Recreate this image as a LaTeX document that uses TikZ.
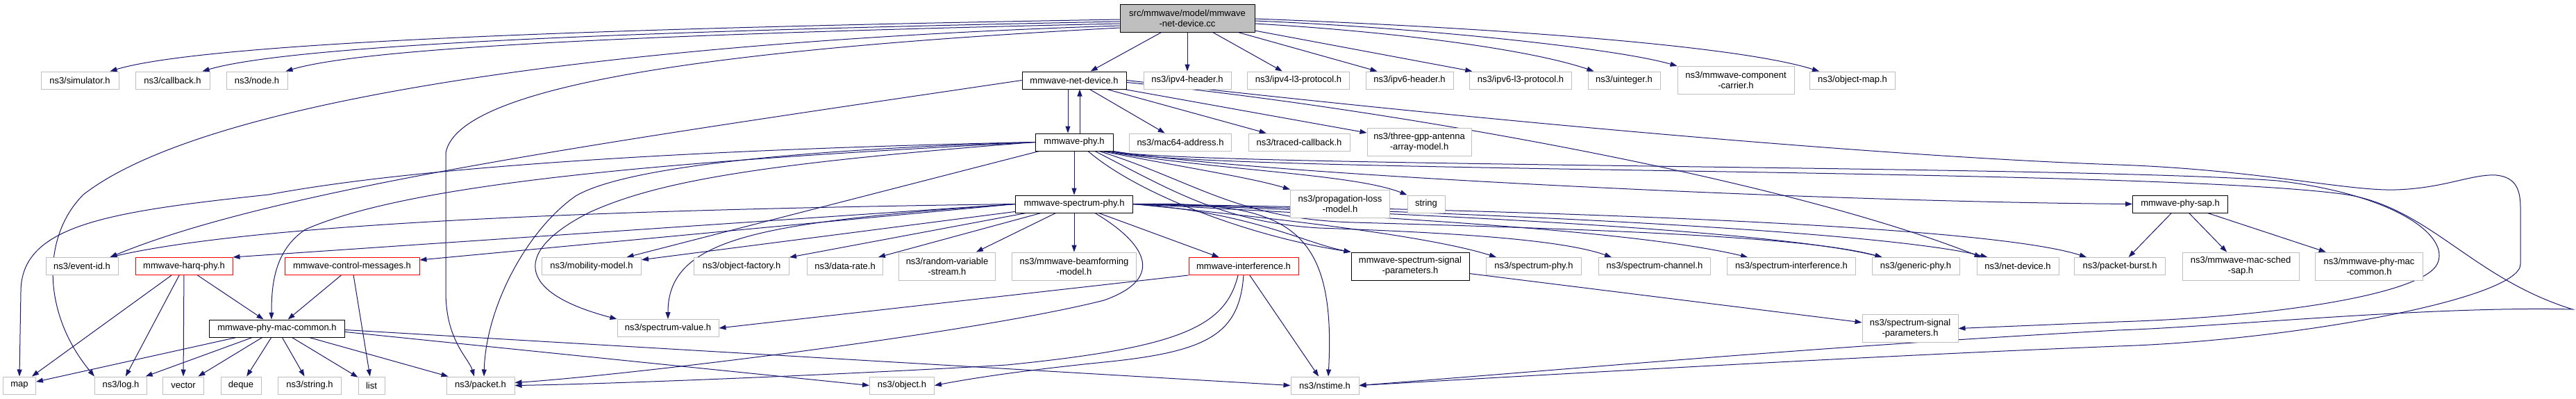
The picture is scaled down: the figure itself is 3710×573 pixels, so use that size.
\documentclass[tikz,border=0pt]{standalone}
\usepackage{fontspec}
\usetikzlibrary{arrows.meta,backgrounds}
\newfontfamily\graphfont{Liberation Sans}
\definecolor{edgeblue}{HTML}{191970}
\definecolor{sysline}{HTML}{BFBFBF}
\definecolor{topfill}{HTML}{BFBFBF}
\definecolor{cutline}{HTML}{FF0000}

\begin{document}
\begin{tikzpicture}[
    x=1pt, y=-1pt,
    font=\graphfont\fontsize{13}{15}\selectfont,
    >={Triangle[length=10pt,width=7pt]},
    box/.style={draw=#1, line width=1pt, fill=white, align=center,
                inner xsep=3pt, inner ysep=1pt, minimum height=25pt},
    sysbox/.style={box=sysline},
    srcbox/.style={box=black},
    cutbox/.style={box=cutline},
    topbox/.style={box=black, fill=topfill},
    tall/.style={minimum height=40pt},
    arr/.style={->, line width=1pt, draw=edgeblue},
  ]
  \useasboundingbox (0,0) rectangle (3710,573);

  % ---- the file itself
  \node[topbox, tall, minimum width=194pt] (root) at (1710,26) {src/mmwave/model/mmwave\\-net-device.cc};

  % ---- direct includes
  \node[sysbox, minimum width=112pt] (sim) at (115,115.5) {ns3/simulator.h};
  \node[sysbox, minimum width=107pt] (cb) at (248.5,115.5) {ns3/callback.h};
  \node[sysbox, minimum width=88pt] (nd) at (370,115.5) {ns3/node.h};
  \node[srcbox, minimum width=150pt] (netdev) at (1547,115.5) {mmwave-net-device.h};
  \node[sysbox, minimum width=126pt] (ipfh) at (1710,115.5) {ns3/ipv4-header.h};
  \node[sysbox, minimum width=147pt] (ipfl) at (1870,115.5) {ns3/ipv4-l3-protocol.h};
  \node[sysbox, minimum width=126pt] (ipsh) at (2030,115.5) {ns3/ipv6-header.h};
  \node[sysbox, minimum width=147pt] (ipsl) at (2190,115.5) {ns3/ipv6-l3-protocol.h};
  \node[sysbox, minimum width=104pt] (uint) at (2339,115.5) {ns3/uinteger.h};
  \node[sysbox, tall, minimum width=168pt] (cc) at (2500,115.5) {ns3/mmwave-component\\-carrier.h};
  \node[sysbox, minimum width=123pt] (omap) at (2668,115.5) {ns3/object-map.h};

  % ---- net device level
  \node[srcbox, minimum width=112pt] (phy) at (1547,204.5) {mmwave-phy.h};
  \node[sysbox, minimum width=147pt] (mac) at (1700,204.5) {ns3/mac64-address.h};
  \node[sysbox, minimum width=146pt] (traced) at (1871,204.5) {ns3/traced-callback.h};
  \node[sysbox, tall, minimum width=150pt] (antenna) at (2044,204.5) {ns3/three-gpp-antenna\\-array-model.h};

  % ---- phy level
  \node[srcbox, minimum width=169pt] (sphy) at (1547,293.5) {mmwave-spectrum-phy.h};
  \node[sysbox, tall, minimum width=143pt] (prop) at (1930,293) {ns3/propagation-loss\\-model.h};
  \node[sysbox, minimum width=54pt] (str) at (2054,293.5) {string};
  \node[srcbox, minimum width=137pt] (sap) at (3140,293.5) {mmwave-phy-sap.h};

  % ---- spectrum phy level
  \node[sysbox, minimum width=104pt] (evid) at (118,383) {ns3/event-id.h};
  \node[cutbox, minimum width=140pt] (harq) at (265,383) {mmwave-harq-phy.h};
  \node[cutbox, minimum width=194pt] (ctrl) at (507,383) {mmwave-control-messages.h};
  \node[sysbox, minimum width=143pt] (mob) at (852,383) {ns3/mobility-model.h};
  \node[sysbox, minimum width=137pt] (ofac) at (1068,383) {ns3/object-factory.h};
  \node[sysbox, minimum width=109pt] (drate) at (1217,383) {ns3/data-rate.h};
  \node[sysbox, tall, minimum width=139pt] (rvs) at (1364,383) {ns3/random-variable\\-stream.h};
  \node[sysbox, tall, minimum width=179pt] (bf) at (1547,383) {ns3/mmwave-beamforming\\-model.h};
  \node[cutbox, minimum width=158pt] (intf) at (1791,383) {mmwave-interference.h};
  \node[srcbox, tall, minimum width=170pt] (mssp) at (2031,383) {mmwave-spectrum-signal\\-parameters.h};
  \node[sysbox, minimum width=137pt] (specphy) at (2209,383) {ns3/spectrum-phy.h};
  \node[sysbox, minimum width=161pt] (schan) at (2383,383) {ns3/spectrum-channel.h};
  \node[sysbox, minimum width=185pt] (sint) at (2580,383) {ns3/spectrum-interference.h};
  \node[sysbox, minimum width=126pt] (gphy) at (2759,383) {ns3/generic-phy.h};
  \node[sysbox, minimum width=118pt] (netd) at (2906,383) {ns3/net-device.h};
  \node[sysbox, minimum width=131pt] (pburst) at (3053,383) {ns3/packet-burst.h};
  \node[sysbox, tall, minimum width=168pt] (sched) at (3227,383) {ns3/mmwave-mac-sched\\-sap.h};
  \node[sysbox, tall, minimum width=155pt] (pmc) at (3412,383) {ns3/mmwave-phy-mac\\-common.h};

  % ---- common level
  \node[srcbox, minimum width=195pt] (common) at (399,472.5) {mmwave-phy-mac-common.h};
  \node[sysbox, minimum width=146pt] (sval) at (962,472) {ns3/spectrum-value.h};
  \node[sysbox, tall, minimum width=138pt] (ssp) at (2751,472.5) {ns3/spectrum-signal\\-parameters.h};

  % ---- leaves
  \node[sysbox, minimum width=47pt] (map) at (28,554.5) {map};
  \node[sysbox, minimum width=75pt] (log) at (174,554.5) {ns3/log.h};
  \node[sysbox, minimum width=59pt] (vec) at (264,554.5) {vector};
  \node[sysbox, minimum width=58pt] (deq) at (347,554.5) {deque};
  \node[sysbox, minimum width=91pt] (strh) at (446,554.5) {ns3/string.h};
  \node[sysbox, minimum width=38pt] (list) at (535,554.5) {list};
  \node[sysbox, minimum width=98pt] (pkt) at (692,554.5) {ns3/packet.h};
  \node[sysbox, minimum width=93pt] (obj) at (1299,554.5) {ns3/object.h};
  \node[sysbox, minimum width=98pt] (nst) at (1908,554.5) {ns3/nstime.h};

  \begin{scope}[on background layer]
    \fill[white] (0,0) rectangle (3710,573);

    % includes of the .cc file
    \draw[arr] ([yshift=-2pt]root.west) .. controls (900,40) and (300,60) .. ([xshift=-13pt]sim.north east);
    \draw[arr] ([yshift=-5pt]root.west) .. controls (900,45) and (420,65) .. ([xshift=-11pt]cb.north east);
    \draw[arr] ([yshift=-8pt]root.west) .. controls (900,50) and (520,70) .. ([xshift=-3pt]nd.north east);
    \draw[arr] ([yshift=-11pt]root.west) .. controls (900,60) and (300,140) .. (120,280)
               .. controls (60,340) and (60,450) .. (log.north west);
    \draw[arr] ([yshift=-14pt]root.west) .. controls (1050,70) and (660,120) .. (642,220)
               -- (642,420) .. controls (642,490) and (675,515) .. ([xshift=-9pt]pkt.north);
    \draw[arr] (root) -- (netdev);
    \draw[arr] (root) -- (ipfh);
    \draw[arr] (root) -- (ipfl);
    \draw[arr] (root) -- (ipsh);
    \draw[arr] (root) -- (ipsl);
    \draw[arr] ([yshift=-8pt]root.east) .. controls (2000,45) and (2200,70) .. ([xshift=9pt]uint.north west);
    \draw[arr] ([yshift=-4pt]root.east) .. controls (2050,40) and (2330,70) .. (cc.north west);
    \draw[arr] ([yshift=-1pt]root.east) .. controls (2150,40) and (2500,65) .. ([xshift=14pt]omap.north west);

    % mmwave-net-device.h
    \draw[arr] ([xshift=-9pt]netdev.south) -- ([xshift=-9pt]phy.north);
    \draw[arr] (netdev) -- (mac);
    \draw[arr] (netdev) -- (traced);
    \draw[arr] (netdev) -- (antenna);
    \draw[arr] (netdev.west) .. controls (900,200) and (400,270) .. ([xshift=-12pt]evid.north east);
    \draw[arr] ([yshift=-3pt]netdev.east) .. controls (1950,150) and (2550,250) .. ([xshift=7pt]netd.north west);
    \draw[arr] (netdev.east) .. controls (2100,170) and (2700,225) .. (3050,237)
               .. controls (3250,244) and (3380,275) .. (3450,273)
               .. controls (3520,271) and (3560,250) .. (3595,252)
               .. controls (3625,255) and (3630,275) .. (3630,300) -- (3630,380)
               .. controls (3630,430) and (3300,490) .. (3050,498)
               .. controls (2700,512) and (2300,535) .. (nst.east);

    % mmwave-phy.h
    \draw[arr] ([xshift=8pt]phy.north) -- ([xshift=8pt]netdev.south);
    \draw[arr] (phy) -- (sphy);
    \draw[arr] (phy) -- (mob);
    \draw[arr] ([xshift=40pt]phy.south) .. controls (1700,240) and (1800,255) .. (prop.north west);
    \draw[arr] ([xshift=44pt]phy.south) .. controls (1750,245) and (1950,250) .. (str.north west);
    \draw[arr] (phy.south east) .. controls (1800,250) and (2600,290) .. (sap.west);
    \draw[arr] ([xshift=-4pt]phy.south east) .. controls (1700,240) and (3000,238) .. (3280,260)
               .. controls (3450,280) and (3530,340) .. (3510,380)
               .. controls (3490,420) and (3300,455) .. (3050,463) -- (ssp.east);
    \draw[arr] ([xshift=-2pt]phy.south east) .. controls (1700,250) and (3100,240) .. (3380,280)
               .. controls (3500,300) and (3560,400) .. (3705,445)
               .. controls (3500,440) and (3200,470) .. (3050,475)
               .. controls (2600,500) and (2300,528) .. (nst.east);
    \draw[arr] ([xshift=20pt]phy.south) .. controls (1640,280) and (1800,340) .. (mssp.north west);
    \draw[arr] ([xshift=30pt]phy.south) .. controls (1680,270) and (1760,320) .. (1900,328)
               .. controls (2100,335) and (2250,345) .. ([xshift=19pt]schan.north west);
    \draw[arr] ([xshift=36pt]phy.south) .. controls (1720,260) and (1780,315) .. (1950,320)
               .. controls (2300,330) and (2600,340) .. ([xshift=15pt]gphy.north west);
    \draw[arr] (phy.west) .. controls (1000,215) and (600,240) .. (387,280)
               .. controls (150,305) and (30,325) .. (30,420) -- (map.north);
    \draw[arr] (phy.west) .. controls (1000,230) and (600,260) .. (440,330)
               .. controls (395,360) and (391,410) .. ([xshift=-8pt]common.north);
    \draw[arr] (phy.west) .. controls (1150,215) and (900,240) .. (829,282)
               .. controls (760,330) and (700,440) .. ([xshift=5pt]pkt.north);
    \draw[arr] (phy.west) .. controls (1100,235) and (950,260) .. (850,305)
               .. controls (740,360) and (740,420) .. (sval.north west);

    % mmwave-spectrum-phy.h
    \draw[arr] (sphy) -- (mob);
    \draw[arr] (sphy) -- (ofac);
    \draw[arr] (sphy) -- (drate);
    \draw[arr] (sphy) -- (rvs);
    \draw[arr] (sphy) -- (bf);
    \draw[arr] (sphy) -- (intf);
    \draw[arr] (sphy.west) -- (harq.north east);
    \draw[arr] (sphy.west) -- ([yshift=9pt]ctrl.east);
    \draw[arr] (sphy.west) .. controls (1000,300) and (400,315) .. ([xshift=-12pt]evid.north east);
    \draw[arr] (sphy.west) .. controls (1100,320) and (962,340) .. (sval.north);
    \draw[arr] ([xshift=30pt]sphy.south) .. controls (1650,350) and (1680,400) .. (1590,432)
               .. controls (1400,480) and (900,540) .. ([yshift=4pt]pkt.east);
    \draw[arr] (sphy.east) .. controls (1850,290) and (1925,320) .. ([xshift=5pt]nst.north);
    \draw[arr] (sphy.east) .. controls (1800,305) and (1880,350) .. (mssp.north west);
    \draw[arr] (sphy.east) .. controls (1850,315) and (2060,340) .. ([xshift=15pt]specphy.north west);
    \draw[arr] (sphy.east) .. controls (1950,310) and (2350,330) .. ([xshift=30pt]sint.north west);
    \draw[arr] (sphy.east) .. controls (2000,305) and (2550,330) .. ([xshift=15pt]gphy.north west);
    \draw[arr] (sphy.east) .. controls (2050,302) and (2700,330) .. ([xshift=16pt]netd.north west);
    \draw[arr] (sphy.east) .. controls (2100,300) and (2850,320) .. ([xshift=18pt]pburst.north west);

    % mmwave-interference.h and signal parameters
    \draw[arr] (intf.south west) -- (sval.east);
    \draw[arr] (intf) -- (nst);
    \draw[arr] ([xshift=-8pt]intf.south) .. controls (1765,470) and (1700,500) .. (1450,525)
               .. controls (1250,537) and (900,552) .. (pkt.east);
    \draw[arr] (intf.south) .. controls (1785,480) and (1740,505) .. (1600,520)
               .. controls (1450,535) and (1380,548) .. (obj.east);
    \draw[arr] (mssp) -- (ssp);

    % mmwave-phy-sap.h
    \draw[arr] (sap) -- (pburst);
    \draw[arr] (sap) -- (sched);
    \draw[arr] (sap) -- (pmc);

    % harq, control messages, common
    \draw[arr] (harq) -- (map);
    \draw[arr] (harq) -- (log);
    \draw[arr] (harq) -- (vec);
    \draw[arr] (harq) -- (common);
    \draw[arr] (ctrl) -- (common);
    \draw[arr] (ctrl) -- (list);
    \draw[arr] (common) -- (map);
    \draw[arr] (common) -- (log);
    \draw[arr] (common) -- (vec);
    \draw[arr] (common) -- (deq);
    \draw[arr] (common) -- (strh);
    \draw[arr] (common) -- (list);
    \draw[arr] (common) -- (pkt);
    \draw[arr] ([yshift=-5pt]common.east) -- (obj.west);
    \draw[arr] ([yshift=-2pt]common.east) -- (nst.west);
  \end{scope}
\end{tikzpicture}
\end{document}
